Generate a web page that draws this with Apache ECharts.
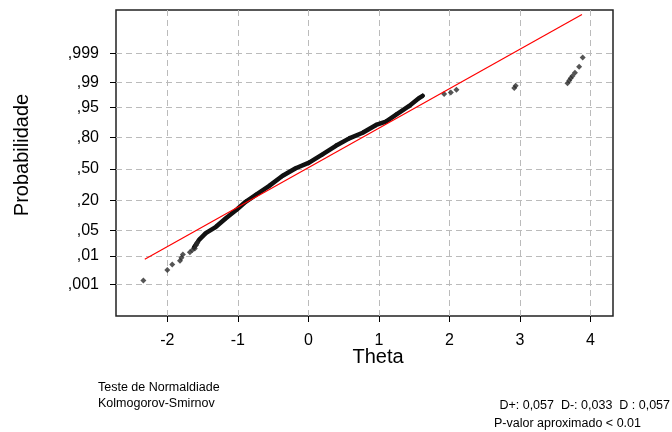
<!DOCTYPE html>
<html>
<head>
<meta charset="utf-8">
<script src="https://cdn.jsdelivr.net/npm/echarts@6/dist/echarts.min.js"></script>
<style>
  html, body { margin: 0; padding: 0; background: #fff; }
  #chart { width: 672px; height: 432px; }
</style>
</head>
<body>
<div id="chart"></div>
<script>
// [theta, normal score] pairs
var tailLow = [
  [-2.34, -2.99], [-2.00, -2.71], [-1.93, -2.56], [-1.82, -2.46], [-1.80, -2.38],
  [-1.78, -2.29], [-1.68, -2.23], [-1.645, -2.17], [-1.61, -2.13], [-1.59, -2.04],
  [-1.575, -1.98]
]
// the dense middle part, read as a band
var band = [
  [-1.62, -2.10], [-1.55, -1.90], [-1.455, -1.72], [-1.31, -1.55], [-1.17, -1.32],
  [-1.01, -1.08], [-0.89, -0.88], [-0.75, -0.70], [-0.56, -0.46], [-0.37, -0.19],
  [-0.18, 0.02], [0.01, 0.17], [0.20, 0.39], [0.39, 0.62], [0.58, 0.82],
  [0.77, 0.97], [0.96, 1.18], [1.10, 1.27], [1.24, 1.45], [1.43, 1.69],
  [1.57, 1.90], [1.62, 1.96]
]
var tailHigh = [
  [1.925, 2.01], [2.02, 2.05], [2.10, 2.12], [2.92, 2.17], [2.94, 2.23],
  [3.675, 2.30], [3.70, 2.37], [3.72, 2.43], [3.745, 2.49], [3.78, 2.58],
  [3.84, 2.74], [3.89, 2.99]
]
var fitLine = [[-2.32, -2.42], [3.88, 4.14]]

var xTicks = [-2, -1, 0, 1, 2, 3, 4]
var probTicks = [0.001, 0.01, 0.05, 0.2, 0.5, 0.8, 0.95, 0.99, 0.999]
var probLabels = [',001', ',01', ',05', ',20', ',50', ',80', ',95', ',99', ',999']

// inverse normal cdf (Acklam), used as the probability scale
function probit(p) {
  var a = [-39.69683028665376, 220.9460984245205, -275.9285104469687, 138.3577518672690, -30.66479806614716, 2.506628277459239]
  var b = [-54.47609879822406, 161.5858368580409, -155.6989798598866, 66.80131188771972, -13.28068155211834]
  var c = [-0.007784894002430293, -0.3223964580411365, -2.400758277161838, -2.549732539343734, 4.374664141464968, 2.938163982698783]
  var d = [0.007784695709041462, 0.3224671290700398, 2.445134137142996, 3.754408661907416]
  var pl = 0.02425
  var q, r
  if (p < pl) {
    q = Math.sqrt(-2 * Math.log(p))
    return (((((c[0] * q + c[1]) * q + c[2]) * q + c[3]) * q + c[4]) * q + c[5]) / ((((d[0] * q + d[1]) * q + d[2]) * q + d[3]) * q + 1)
  }
  if (p > 1 - pl) {
    q = Math.sqrt(-2 * Math.log(1 - p))
    return -(((((c[0] * q + c[1]) * q + c[2]) * q + c[3]) * q + c[4]) * q + c[5]) / ((((d[0] * q + d[1]) * q + d[2]) * q + d[3]) * q + 1)
  }
  q = p - 0.5
  r = q * q
  return (((((a[0] * r + a[1]) * r + a[2]) * r + a[3]) * r + a[4]) * r + a[5]) * q / (((((b[0] * r + b[1]) * r + b[2]) * r + b[3]) * r + b[4]) * r + 1)
}
var zTicks = probTicks.map(probit)

function probLabel(v) {
  var best = 0
  for (var i = 1; i < zTicks.length; i++) {
    if (Math.abs(zTicks[i] - v) < Math.abs(zTicks[best] - v)) best = i
  }
  return probLabels[best]
}

var font = '"Liberation Sans", Arial, sans-serif'
var gridLine = { color: '#bbbbbb', width: 1, type: [6, 4] }

var chart = echarts.init(document.getElementById('chart'))
chart.setOption({
  animation: false,
  backgroundColor: '#fff',
  textStyle: { fontFamily: font },
  grid: {
    left: 116, right: 59, top: 10, bottom: 116,
    show: true, borderColor: '#222', borderWidth: 1.5, backgroundColor: 'transparent'
  },
  xAxis: {
    type: 'value',
    min: -2.728,
    max: 4.32,
    axisLine: { show: false, onZero: false },
    axisTick: { show: true, customValues: xTicks, length: 6, lineStyle: { color: '#000' } },
    axisLabel: { customValues: xTicks, fontSize: 16, color: '#000', margin: 17, fontFamily: font },
    splitLine: { show: true, lineStyle: gridLine }
  },
  yAxis: {
    type: 'value',
    min: -3.94,
    max: 4.26,
    axisLine: { show: false, onZero: false },
    axisTick: { show: true, customValues: zTicks, length: 6, lineStyle: { color: '#000' } },
    axisLabel: { customValues: zTicks, fontSize: 16, color: '#000', margin: 17, fontFamily: font, formatter: probLabel },
    splitLine: { show: true, lineStyle: gridLine }
  },
  series: [
    {
      type: 'line',
      data: band,
      symbol: 'diamond',
      symbolSize: 5,
      showAllSymbol: true,
      itemStyle: { color: '#111' },
      lineStyle: { color: '#111', width: 4.5, cap: 'round', join: 'round' },
      z: 3
    },
    {
      type: 'scatter',
      data: tailLow.concat(tailHigh),
      symbol: 'diamond',
      symbolSize: 6,
      itemStyle: { color: '#2a2a2a' },
      z: 3
    },
    {
      type: 'line',
      data: fitLine,
      symbol: 'none',
      lineStyle: { color: '#ff0000', width: 1.2 },
      z: 4
    }
  ],
  graphic: [
    { type: 'text', x: 22, y: 155, rotation: Math.PI / 2, style: { text: 'Probabilidade', font: '20px ' + font, fill: '#000', align: 'center', verticalAlign: 'middle' } },
    { type: 'text', x: 378, y: 357, style: { text: 'Theta', font: '20px ' + font, fill: '#000', align: 'center', verticalAlign: 'middle' } },
    { type: 'text', x: 98, y: 388, style: { text: 'Teste de Normaldiade', font: '12.5px ' + font, fill: '#000', verticalAlign: 'middle' } },
    { type: 'text', x: 98, y: 404, style: { text: 'Kolmogorov-Smirnov', font: '12.5px ' + font, fill: '#000', verticalAlign: 'middle' } },
    { type: 'text', x: 670, y: 406, style: { text: 'D+: 0,057  D-: 0,033  D : 0,057', font: '12.5px ' + font, fill: '#000', align: 'right', verticalAlign: 'middle' } },
    { type: 'text', x: 494, y: 424, style: { text: 'P-valor aproximado < 0.01', font: '12.5px ' + font, fill: '#000', verticalAlign: 'middle' } }
  ]
})
</script>
</body>
</html>
